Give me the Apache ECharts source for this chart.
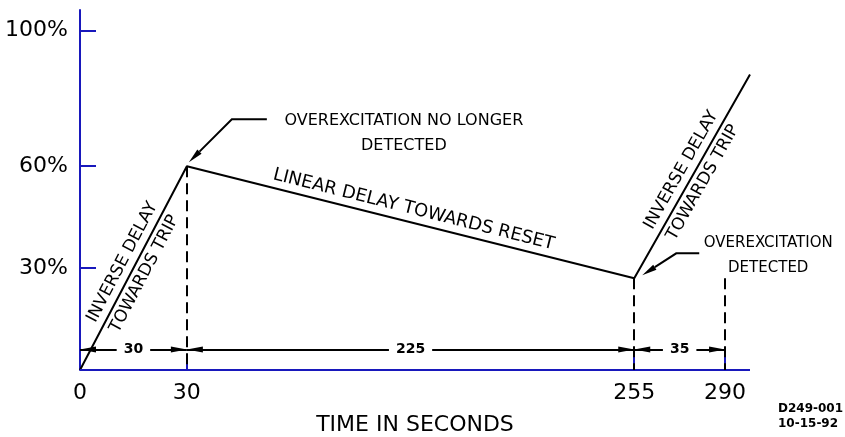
<!DOCTYPE html>
<html>
<head>
<meta charset="utf-8">
<script src="https://cdn.jsdelivr.net/npm/echarts@6/dist/echarts.min.js"></script>
<style>
  html, body { margin: 0; padding: 0; background: #fff; }
  #main { width: 845px; height: 437px; }
</style>
</head>
<body>
<div id="main"></div>
<script>
// curve: time in seconds vs. % of trip level
const timeSec = [0, 30, 255, 297];
const levelPct = [0, 60, 27, 87];
// axis ticks
const timeTicks = [0, 30, 255, 290];
const pctTicks = [30, 60, 100];
// dashed drop lines (time, top level)
const dropTimes = [30, 255, 290];
const dropTops = [60, 27, 27];
// dimension row (spans between these times, drawn at this level)
const dimTimes = [0, 30, 255, 290];
const dimLevel = 6;

const BLACK = '#000';
const BLUE = '#1818bc';
const FONT = 'DejaVu Sans';
const X_MAX = 297;

const chart = echarts.init(document.getElementById('main'), null, { renderer: 'canvas' });

const pts = timeSec.map((t, i) => [t, levelPct[i]]);

// text that runs along a segment of the curve
function along(a, b, text, pos, size) {
  return [
    {
      coord: a,
      lineStyle: { color: 'rgba(0,0,0,0)', width: 0, opacity: 1 },
      label: { show: true, position: pos, formatter: text, color: BLACK, opacity: 1, fontFamily: FONT, fontSize: size, distance: 4 }
    },
    { coord: b }
  ];
}

const labelLines = [
  along(pts[0], pts[1], 'INVERSE DELAY', 'insideMiddleTop', 17),
  along(pts[0], pts[1], 'TOWARDS TRIP', 'insideMiddleBottom', 17),
  along(pts[1], pts[2], 'LINEAR DELAY TOWARDS RESET', 'insideMiddleTop', 18),
  along(pts[2], pts[3], 'INVERSE DELAY', 'insideMiddleTop', 17),
  along(pts[2], pts[3], 'TOWARDS TRIP', 'insideMiddleBottom', 17)
];

const dropLines = dropTimes.map((t, i) => [{ coord: [t, dropTops[i]] }, { coord: [t, 0] }]);

const dimLines = [];
for (let i = 0; i < dimTimes.length - 1; i++) {
  dimLines.push([
    {
      coord: [dimTimes[i], dimLevel],
      symbolSize: [6, 16],
      label: {
        show: true, position: 'middle', formatter: String(dimTimes[i + 1] - dimTimes[i]),
        color: BLACK, fontFamily: FONT, fontSize: 14, fontWeight: 'bold',
        align: 'center', verticalAlign: 'middle', distance: 0,
        backgroundColor: '#fff', padding: [0, 7]
      }
    },
    { coord: [dimTimes[i + 1], dimLevel], symbolSize: [6, 16] }
  ]);
}

chart.setOption({
  animation: false,
  grid: { left: 80, right: 95, top: 10, bottom: 67, outerBoundsMode: 'none', containLabel: false },
  xAxis: {
    type: 'value',
    min: 0,
    max: X_MAX,
    breaks: [
      { start: 35, end: 250, gap: 115.6 },
      { start: 260, end: 285, gap: 15.5 }
    ],
    breakArea: { show: false },
    axisLine: { show: false },
    axisTick: { show: true, inside: true, length: 14, customValues: timeTicks, lineStyle: { color: BLUE, width: 2 } },
    axisLabel: { customValues: timeTicks, color: BLACK, fontFamily: FONT, fontSize: 22, margin: 12 },
    splitLine: { show: false },
    name: 'TIME IN SECONDS',
    nameLocation: 'middle',
    nameGap: 44,
    nameTextStyle: { color: BLACK, fontFamily: FONT, fontSize: 22 }
  },
  yAxis: {
    type: 'value',
    min: 0,
    max: 106,
    axisLine: { show: true, lineStyle: { color: BLUE, width: 2 } },
    axisTick: { show: true, inside: true, length: 16, customValues: pctTicks, lineStyle: { color: BLUE, width: 2 } },
    axisLabel: { customValues: pctTicks, formatter: '{value}%', color: BLACK, fontFamily: FONT, fontSize: 22, margin: 12 },
    splitLine: { show: false }
  },
  series: [
    {
      // time axis baseline (drawn as a mark so it runs unbroken across the axis breaks)
      type: 'line',
      data: [],
      z: 1,
      markLine: {
        silent: true, symbol: 'none', label: { show: false },
        lineStyle: { color: BLUE, width: 2, type: 'solid' },
        data: [[{ coord: [0, 0] }, { coord: [X_MAX, 0] }]]
      }
    },
    {
      type: 'line',
      data: pts,
      symbol: 'none',
      z: 3,
      lineStyle: { color: BLACK, width: 2 },
      markLine: {
        silent: true, symbol: 'none', label: { show: false },
        data: labelLines
      }
    },
    {
      type: 'line',
      data: [],
      z: 2,
      markLine: {
        silent: true, symbol: 'none', label: { show: false },
        lineStyle: { color: BLACK, width: 2, type: [11, 6] },
        data: dropLines
      }
    },
    {
      type: 'line',
      data: [],
      z: 2,
      markLine: {
        silent: true,
        symbol: ['triangle', 'triangle'],
        symbolOffset: [[0, 8], [0, 8]],
        label: { show: false },
        lineStyle: { color: BLACK, width: 2, type: 'solid' },
        itemStyle: { color: BLACK },
        data: dimLines
      }
    }
  ]
});

// callouts anchored at curve points
function callout(anchor, tipOff, elbowOff, endOff, text, textOff, size) {
  const p = chart.convertToPixel({ gridIndex: 0 }, anchor);
  const tip = [p[0] + tipOff[0], p[1] + tipOff[1]];
  const elbow = [p[0] + elbowOff[0], p[1] + elbowOff[1]];
  const end = [p[0] + endOff[0], p[1] + endOff[1]];
  const dx = tip[0] - elbow[0], dy = tip[1] - elbow[1];
  const len = Math.sqrt(dx * dx + dy * dy);
  const ux = dx / len, uy = dy / len;
  const bx = tip[0] - ux * 15, by = tip[1] - uy * 15;
  return [
    {
      type: 'polyline',
      shape: { points: [end, elbow, [bx, by]] },
      style: { stroke: BLACK, lineWidth: 2, fill: null }
    },
    {
      type: 'polygon',
      shape: { points: [tip, [bx - uy * 3, by + ux * 3], [bx + uy * 3, by - ux * 3]] },
      style: { fill: BLACK }
    },
    {
      type: 'text',
      x: p[0] + textOff[0],
      y: p[1] + textOff[1],
      style: {
        text: text, fill: BLACK, font: size + 'px ' + FONT,
        align: 'center', verticalAlign: 'middle', lineHeight: 25
      }
    }
  ];
}

chart.setOption({
  graphic: [].concat(
    callout(pts[1], [2, -4], [45, -47], [80, -47], 'OVEREXCITATION NO LONGER\nDETECTED', [217, -33], 16),
    callout(pts[2], [8, -3], [42, -25], [65, -25], 'OVEREXCITATION\nDETECTED', [134, -23], 15),
    [{
      type: 'text',
      left: 778,
      top: 401,
      style: { text: 'D249-001\n10-15-92', fill: BLACK, font: 'bold 12px ' + FONT, lineHeight: 15 }
    }]
  )
});
</script>
</body>
</html>
